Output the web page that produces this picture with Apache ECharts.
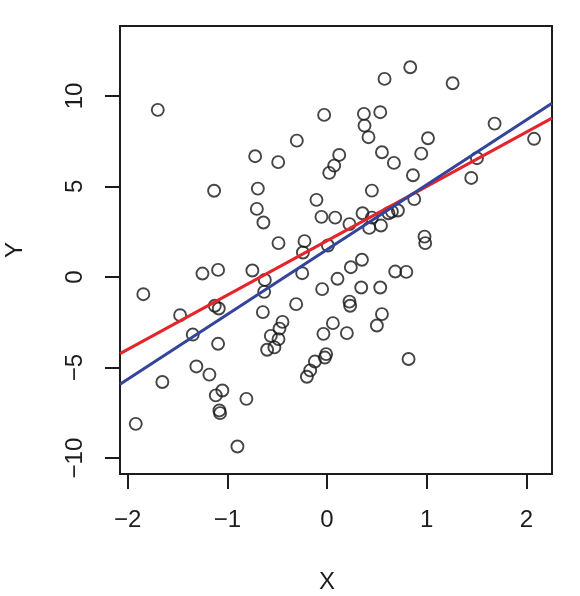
<!DOCTYPE html>
<html>
<head>
<meta charset="utf-8">
<script src="https://cdn.jsdelivr.net/npm/echarts@6/dist/echarts.min.js"></script>
<style>
html,body{margin:0;padding:0;background:#fff;}
#chart{width:580px;height:596px;}
</style>
</head>
<body>
<div id="chart"></div>
<script>
// Observed points (X, Y)
var xValues = [
  -1.698,-0.029,-0.303,-0.721,-0.490,0.122,0.072,0.022,-1.133,-0.694,
  -0.106,-0.704,-0.638,-0.056,0.082,-0.487,-0.226,0.009,-0.242,0.835,
  0.577,1.260,0.370,0.534,0.376,0.416,1.681,1.013,2.077,0.551,
  0.945,0.671,1.504,0.862,1.447,0.450,0.875,0.225,0.356,0.450,
  0.423,0.541,0.617,0.651,0.711,0.978,0.985,0.350,0.239,0.105,
  0.684,0.795,0.343,0.534,0.225,0.232,0.551,0.500,0.059,0.199,
  0.818,-1.250,-1.093,-0.749,-0.624,-0.249,-0.631,-1.843,-0.049,-1.126,
  -1.086,-1.474,-0.644,-0.310,-0.447,-0.477,-0.564,-0.487,-0.528,-0.601,
  -0.036,-1.347,-1.093,-0.009,-0.022,-0.122,-0.169,-0.202,-1.311,-1.180,
  -1.652,-1.116,-1.050,-0.809,-1.080,-1.073,-1.919,-0.899
];
var yValues = [
  9.23,8.95,7.53,6.67,6.34,6.74,6.15,5.75,4.76,4.88,
  4.26,3.76,3.01,3.32,3.28,1.87,1.98,1.74,1.35,11.58,
  10.94,10.70,9.01,9.10,8.36,7.72,8.47,7.66,7.63,6.89,
  6.81,6.30,6.56,5.62,5.47,4.77,4.30,2.92,3.52,3.28,
  2.71,2.84,3.52,3.61,3.67,2.23,1.87,0.95,0.54,-0.10,
  0.30,0.28,-0.58,-0.58,-1.36,-1.59,-2.05,-2.68,-2.55,-3.10,
  -4.53,0.19,0.39,0.36,-0.16,0.21,-0.82,-0.95,-0.67,-1.59,
  -1.74,-2.11,-1.94,-1.50,-2.48,-2.85,-3.25,-3.43,-3.89,-4.02,
  -3.14,-3.18,-3.69,-4.26,-4.45,-4.67,-5.16,-5.51,-4.94,-5.39,
  -5.80,-6.54,-6.27,-6.73,-7.37,-7.52,-8.11,-9.36
];
// Lines: [intercept, slope]
var populationLine = [2.0, 3.0];     // red
var leastSquaresLine = [1.51, 3.58]; // blue
var xTicks = [-2, -1, 0, 1, 2];
var yTicks = [-10, -5, 0, 5, 10];

var xMin = -2.077, xMax = 2.257;
var yMin = -10.88, yMax = 13.86;

var points = xValues.map(function(x, i){ return [x, yValues[i]]; });
function lineData(p){ return [[xMin, p[0] + p[1]*xMin], [xMax, p[0] + p[1]*xMax]]; }

var font = '"Liberation Sans", Arial, Helvetica, sans-serif';
var ink = '#1e1b1c';
var chart = echarts.init(document.getElementById('chart'), null, {renderer:'canvas'});
chart.setOption({
  animation: false,
  backgroundColor: '#ffffff',
  grid: {left:120, right:28, top:26, bottom:122, containLabel:false, outerBoundsMode:'none',
         show:true, borderColor:ink, borderWidth:2, backgroundColor:'transparent'},
  xAxis: {
    type:'value', min:xMin, max:xMax,
    name:'X', nameLocation:'middle', nameGap:96,
    nameTextStyle:{fontFamily:font, fontSize:24, color:ink, padding:[0,18,0,0]},
    axisLine:{show:false, onZero:false},
    axisTick:{show:true, length:15, lineStyle:{color:ink, width:2}, customValues: xTicks},
    axisLabel:{fontFamily:font, fontSize:24, color:ink, margin:34, customValues: xTicks,
      formatter:function(v){ return String(v).replace('-', '\u2212'); }},
    splitLine:{show:false}
  },
  yAxis: {
    type:'value', min:yMin, max:yMax,
    name:'Y', nameLocation:'middle', nameGap:93, nameRotate:90,
    nameTextStyle:{fontFamily:font, fontSize:24, color:ink},
    axisLine:{show:false, onZero:false},
    axisTick:{show:true, length:15, lineStyle:{color:ink, width:2}, customValues: yTicks},
    axisLabel:{fontFamily:font, fontSize:24, color:ink, margin:33, rotate:90, customValues: yTicks,
      formatter:function(v){ return String(v).replace('-', '\u2212'); }},
    splitLine:{show:false}
  },
  series: [
    {type:'scatter', data:points, symbol:'circle', symbolSize:12,
     itemStyle:{color:'rgba(0,0,0,0)', borderColor:'#161616', borderWidth:1.9}, z:2},
    {type:'line', data:lineData(populationLine), showSymbol:false, symbol:'none',
     lineStyle:{color:'#E5242B', width:3}, clip:true, z:3},
    {type:'line', data:lineData(leastSquaresLine), showSymbol:false, symbol:'none',
     lineStyle:{color:'#33449A', width:3}, clip:true, z:4}
  ]
});
</script>
</body>
</html>
